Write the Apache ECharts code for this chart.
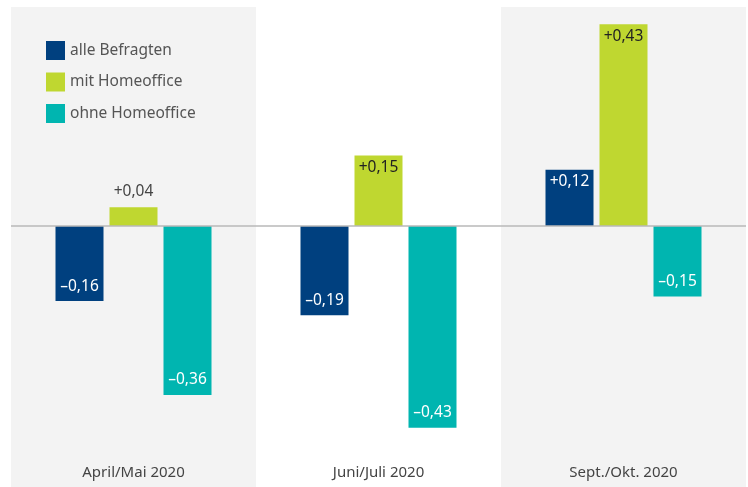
<!DOCTYPE html>
<html>
<head>
<meta charset="utf-8">
<script src="https://cdn.jsdelivr.net/npm/echarts@6/dist/echarts.min.js"></script>
<style>
html, body { margin: 0; padding: 0; background: #fff; }
#chart { width: 748px; height: 487px; }
</style>
</head>
<body>
<div id="chart"></div>
<script>
const categories = ['April/Mai 2020', 'Juni/Juli 2020', 'Sept./Okt. 2020']
const seriesNames = ['alle Befragten', 'mit Homeoffice', 'ohne Homeoffice']
const alleBefragten = [-0.16, -0.19, 0.12]
const mitHomeoffice = [0.04, 0.15, 0.43]
const ohneHomeoffice = [-0.36, -0.43, -0.15]
const colors = ['#00407f', '#bfd730', '#00b5b0']

const fmt = (v) => (v > 0 ? '+' : '–') + Math.abs(v).toFixed(2).replace('.', ',')

// label style per bar: small positive bar gets label above, others inside
const makeData = (values, textColor) => values.map((v) => {
    let label
    if (v < 0) {
        label = { position: 'insideBottom', distance: 7, color: '#ffffff' }
    } else if (v < 0.08) {
        label = { position: 'top', distance: 8, color: '#444444' }
    } else {
        label = { position: 'insideTop', distance: 4, color: textColor }
    }
    return { value: v, label: label }
})

const chart = echarts.init(document.getElementById('chart'))
const baseSeries = (name, values, color, textColor) => ({
    name: name,
    type: 'bar',
    barWidth: 48,
    barGap: '12.5%',
    itemStyle: { color: color },
    label: {
        show: true,
        fontFamily: 'Noto Sans',
        fontSize: 15.5,
        formatter: (p) => fmt(p.value)
    },
    data: makeData(values, textColor)
})

const series = [
    baseSeries(seriesNames[0], alleBefragten, colors[0], '#ffffff'),
    baseSeries(seriesNames[1], mitHomeoffice, colors[1], '#222222'),
    baseSeries(seriesNames[2], ohneHomeoffice, colors[2], '#ffffff')
]
series[0].markLine = {
    silent: true,
    symbol: 'none',
    label: { show: false },
    lineStyle: { color: '#b8b8b8', width: 1.5, type: 'solid' },
    data: [{ yAxis: 0 }]
}

chart.setOption({
    animation: false,
    textStyle: { fontFamily: 'Noto Sans' },
    legend: {
        orient: 'vertical',
        left: 46,
        top: 41,
        padding: 0,
        itemWidth: 19,
        itemHeight: 19,
        itemGap: 12.5,
        icon: 'rect',
        textStyle: { fontSize: 15.5, color: '#555555' },
        data: seriesNames
    },
    grid: { left: 11, right: 2, top: 7, bottom: 0 },
    xAxis: {
        type: 'category',
        data: categories,
        axisLine: { show: false },
        axisTick: { show: false },
        splitArea: { show: true, areaStyle: { color: ['#f3f3f3', '#ffffff'] } },
        axisLabel: { inside: true, margin: 7, fontSize: 15, color: '#444444', verticalAlign: 'bottom' }
    },
    yAxis: {
        type: 'value',
        min: -0.556,
        max: 0.4665,
        show: false,
        splitLine: { show: false }
    },
    series: series
})
</script>
</body>
</html>
